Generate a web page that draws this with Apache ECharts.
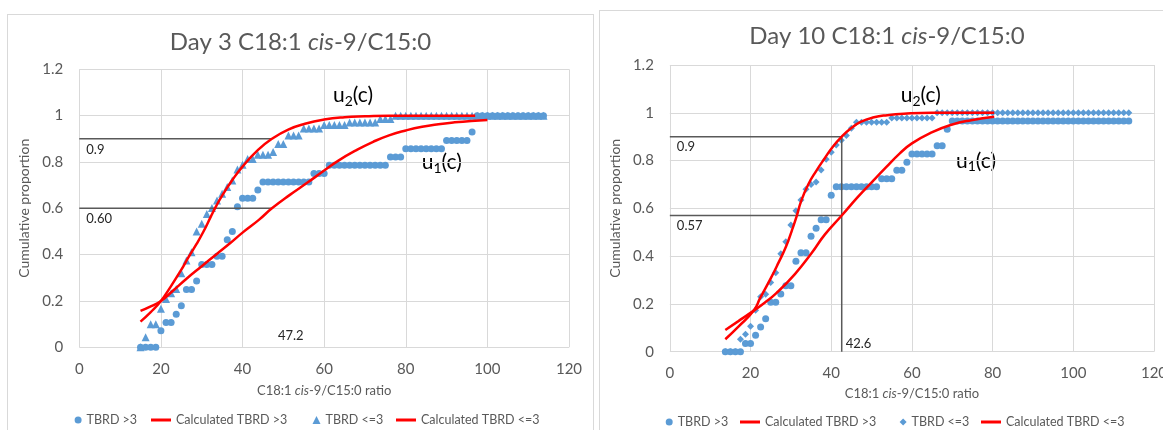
<!DOCTYPE html>
<html>
<head>
<meta charset="utf-8">
<script src="https://cdn.jsdelivr.net/npm/echarts@6/dist/echarts.min.js"></script>
<style>
  html, body { margin: 0; padding: 0; background: #fff; overflow: hidden; }
  body { width: 1163px; height: 430px; position: relative; }
  .panel { position: absolute; box-sizing: border-box; border: 1px solid #d9d9d9; border-bottom: none; }
  #day3 { left: 7px; top: 14px; width: 587px; height: 430px; }
  #day10 { left: 599px; top: 10px; width: 576px; height: 430px; }
</style>
</head>
<body>
<div id="day3" class="panel"></div>
<div id="day10" class="panel"></div>
<script>
// ---- Day 3 data (x grid shared by both observed series) ----
const day3X = [15, 16.25, 17.5, 18.75, 20, 21.25, 22.5, 23.75, 25, 26.25, 27.5, 28.75, 30, 31.25, 32.5,
  33.75, 35, 36.25, 37.5, 38.75, 40, 41.25, 42.5, 43.75, 45, 46.25, 47.5, 48.75, 50, 51.25, 52.5, 53.75,
  55, 56.25, 57.5, 58.75, 60, 61.25, 62.5, 63.75, 65, 66.25, 67.5, 68.75, 70, 71.25, 72.5, 73.75, 75,
  76.25, 77.5, 78.75, 80, 81.25, 82.5, 83.75, 85, 86.25, 87.5, 88.75, 90, 91.25, 92.5, 93.75, 95, 96.25,
  97.5, 98.75, 100, 101.25, 102.5, 103.75, 105, 106.25, 107.5, 108.75, 110, 111.25, 112.5, 113.75];
const day3High = [0, 0, 0, 0, 0.071, 0.107, 0.107, 0.143, 0.179, 0.25, 0.25, 0.286, 0.357, 0.357, 0.357,
  0.393, 0.393, 0.464, 0.5, 0.607, 0.643, 0.643, 0.643, 0.679, 0.714, 0.714, 0.714, 0.714, 0.714, 0.714,
  0.714, 0.714, 0.714, 0.714, 0.75, 0.75, 0.75, 0.786, 0.786, 0.786, 0.786, 0.786, 0.786, 0.786, 0.786,
  0.786, 0.786, 0.786, 0.786, 0.821, 0.821, 0.821, 0.857, 0.857, 0.857, 0.857, 0.857, 0.857, 0.857, 0.857,
  0.893, 0.893, 0.893, 0.893, 0.893, 0.929, 1, 1, 1, 1, 1, 1, 1, 1, 1, 1, 1, 1, 1, 1];
const day3Low = [0, 0.043, 0.099, 0.099, 0.166, 0.209, 0.233, 0.252, 0.32, 0.375, 0.41, 0.5, 0.533, 0.575,
  0.601, 0.634, 0.663, 0.692, 0.72, 0.767, 0.788, 0.813, 0.813, 0.831, 0.831, 0.831, 0.843, 0.878, 0.878,
  0.914, 0.914, 0.914, 0.945, 0.945, 0.945, 0.945, 0.96, 0.96, 0.96, 0.96, 0.96, 0.97, 0.97, 0.97, 0.97,
  0.97, 0.97, 0.985, 0.985, 0.985, 1, 1, 1, 1, 1, 1, 1, 1, 1, 1, 1, 1, 1, 1, 1, 1, 1, 1, 1, 1, 1, 1, 1, 1,
  1, 1, 1, 1, 1, 1];
const day3FitHighX = [15, 17.5, 20, 23, 26.2, 30, 33.7, 37, 40, 44, 47.2, 51.6, 56, 60, 63.5, 67.8, 72,
  75.9, 80, 84, 88, 92, 96, 100];
const day3FitHighY = [0.157, 0.177, 0.2, 0.245, 0.295, 0.35, 0.403, 0.45, 0.495, 0.55, 0.6, 0.658, 0.712,
  0.763, 0.806, 0.85, 0.887, 0.915, 0.936, 0.952, 0.963, 0.971, 0.977, 0.981];
const day3FitLowX = [15, 17.5, 20, 22.4, 24.9, 26.8, 28.7, 30.5, 32.2, 33.5, 35, 37.5, 40, 43.8, 47.2,
  51.2, 55.3, 60, 65, 70, 76, 85, 97];
const day3FitLowY = [0.111, 0.152, 0.2, 0.262, 0.332, 0.39, 0.445, 0.502, 0.563, 0.608, 0.655, 0.722, 0.78,
  0.852, 0.9, 0.94, 0.965, 0.983, 0.993, 0.997, 1, 1, 1];
const day3Levels = [0.9, 0.6];
const day3LevelLabels = ['0.9', '0.60'];
const day3Cut = 47.2;

// ---- Day 10 data ----
const day10X = [13.75, 15, 16.25, 17.5, 18.75, 20, 21.25, 22.5, 23.75, 25, 26.25, 27.5, 28.75, 30, 31.25,
  32.5, 33.75, 35, 36.25, 37.5, 38.75, 40, 41.25, 42.5, 43.75, 45, 46.25, 47.5, 48.75, 50, 51.25, 52.5,
  53.75, 55, 56.25, 57.5, 58.75, 60, 61.25, 62.5, 63.75, 65, 66.25, 67.5, 68.75, 70, 71.25, 72.5, 73.75,
  75, 76.25, 77.5, 78.75, 80, 81.25, 82.5, 83.75, 85, 86.25, 87.5, 88.75, 90, 91.25, 92.5, 93.75, 95,
  96.25, 97.5, 98.75, 100, 101.25, 102.5, 103.75, 105, 106.25, 107.5, 108.75, 110, 111.25, 112.5, 113.75];
const day10High = [0, 0, 0, 0, 0.034, 0.034, 0.069, 0.103, 0.138, 0.207, 0.207, 0.241, 0.276, 0.276, 0.379,
  0.414, 0.414, 0.483, 0.517, 0.552, 0.552, 0.655, 0.69, 0.69, 0.69, 0.69, 0.69, 0.69, 0.69, 0.69, 0.69,
  0.724, 0.724, 0.724, 0.759, 0.759, 0.793, 0.828, 0.828, 0.828, 0.828, 0.828, 0.862, 0.862, 0.931, 0.966,
  0.966, 0.966, 0.966, 0.966, 0.966, 0.966, 0.966, 0.966, 0.966, 0.966, 0.966, 0.966, 0.966, 0.966, 0.966,
  0.966, 0.966, 0.966, 0.966, 0.966, 0.966, 0.966, 0.966, 0.966, 0.966, 0.966, 0.966, 0.966, 0.966, 0.966,
  0.966, 0.966, 0.966, 0.966, 0.966, 1];
const day10Low = [0, 0, 0, 0.052, 0.073, 0.107, 0.174, 0.23, 0.24, 0.29, 0.33, 0.41, 0.46, 0.53, 0.59,
  0.635, 0.68, 0.7, 0.71, 0.76, 0.805, 0.835, 0.865, 0.885, 0.905, 0.935, 0.96, 0.96, 0.96, 0.96, 0.96,
  0.96, 0.96, 0.978, 0.978, 0.978, 0.978, 0.978, 0.978, 0.978, 0.978, 0.978, 1, 1, 1, 1, 1, 1, 1, 1, 1, 1,
  1, 1, 1, 1, 1, 1, 1, 1, 1, 1, 1, 1, 1, 1, 1, 1, 1, 1, 1, 1, 1, 1, 1, 1, 1, 1, 1, 1, 1];
const day10FitHighX = [13.75, 17, 20.8, 23.5, 26.4, 31, 35.1, 38.4, 42.6, 46.5, 50.2, 53.5, 57, 60, 64.9,
  69.8, 74.7, 80.4];
const day10FitHighY = [0.091, 0.128, 0.172, 0.205, 0.245, 0.325, 0.412, 0.49, 0.57, 0.646, 0.712, 0.77,
  0.83, 0.872, 0.918, 0.95, 0.969, 0.983];
const day10FitLowX = [13.75, 17, 20.8, 22.4, 25.1, 27, 28.8, 30.2, 31.4, 32.5, 34.3, 36.3, 38.4, 40.4,
  42.6, 44.9, 47.3, 50.6, 53.9, 58, 65, 80.4];
const day10FitLowY = [0.052, 0.105, 0.172, 0.225, 0.31, 0.375, 0.44, 0.505, 0.565, 0.628, 0.7, 0.757,
  0.81, 0.858, 0.9, 0.935, 0.962, 0.981, 0.99, 0.996, 1, 1];
const day10Levels = [0.9, 0.57];
const day10LevelLabels = ['0.9', '0.57'];
const day10Cut = 42.6;

const BLUE = '#5b9bd5';
const RED = '#ff0000';
const GREY = '#595959';
const GRIDLINE = '#d9d9d9';
const FONT = 'Lato, "Open Sans", sans-serif';

function pairs(xs, ys) {
  return xs.map((x, i) => [x, ys[i]]);
}

function note(x, y, digit) {
  return {
    type: 'text', left: x, top: y - 13,
    style: {
      text: '{u|u}{s|' + digit + '}{u|(c)}',
      rich: {
        u: { fontSize: 21, lineHeight: 26, fill: '#000', fontFamily: FONT },
        s: { fontSize: 14, lineHeight: 14, verticalAlign: 'bottom', fill: '#000', fontFamily: FONT }
      }
    }
  };
}

function buildOption(cfg) {
  const labelText = { color: '#262626', fontSize: 13, fontFamily: FONT };
  const series = [];
  cfg.levels.forEach((lvl, k) => {
    series.push({
      type: 'line', symbol: 'circle', symbolSize: 0, showSymbol: true, silent: true,
      lineStyle: { color: GREY, width: 1.5 }, itemStyle: { color: GREY },
      data: [
        { value: [0, lvl], label: Object.assign({ show: true, formatter: cfg.levelLabels[k], position: 'right',
          distance: cfg.levelDx, offset: [0, cfg.levelDy] }, labelText) },
        [cfg.cut, lvl]
      ]
    });
  });
  series.push({
    type: 'line', symbol: 'circle', symbolSize: 0, showSymbol: true, silent: true,
    lineStyle: { color: GREY, width: 1.5, opacity: cfg.cutLine ? 1 : 0 }, itemStyle: { color: GREY },
    data: [
      [cfg.cut, cfg.levels[0]],
      { value: [cfg.cut, 0], label: Object.assign({ show: true, formatter: String(cfg.cut), position: 'right',
        distance: cfg.cutDx, offset: [0, cfg.cutDy] }, labelText) }
    ]
  });
  series.push({
    name: 'TBRD >3', type: 'scatter', symbol: 'circle', symbolSize: 7,
    itemStyle: { color: BLUE, opacity: 1 }, data: pairs(cfg.xs, cfg.high)
  });
  series.push({
    name: 'Calculated TBRD >3', type: 'line', smooth: 0.5, showSymbol: false,
    lineStyle: { color: RED, width: 2.5 }, itemStyle: { color: RED }, data: pairs(cfg.fitHighX, cfg.fitHighY)
  });
  series.push({
    name: 'TBRD <=3', type: 'scatter', symbol: cfg.lowSymbol, symbolSize: cfg.lowSize,
    itemStyle: { color: BLUE, opacity: 1 }, data: pairs(cfg.xs, cfg.low)
  });
  series.push({
    name: 'Calculated TBRD <=3', type: 'line', smooth: 0.5, showSymbol: false,
    lineStyle: { color: RED, width: 2.5 }, itemStyle: { color: RED }, data: pairs(cfg.fitLowX, cfg.fitLowY)
  });

  const legendText = { color: GREY, fontSize: 12.5, lineHeight: 16, fontFamily: FONT };
  const L = cfg.legendLeft;
  const T = cfg.legendY - 8;
  const common = { top: T, padding: 0, textStyle: legendText, selectedMode: false };

  return {
    animation: false,
    textStyle: { fontFamily: FONT },
    title: {
      left: 'center', top: cfg.titleY - 14,
      text: '{n|Day ' + cfg.day + ' C18:1 }{i|cis}{n|-9/C15:0}',
      textStyle: {
        rich: {
          n: { fontSize: 24, color: GREY, fontFamily: FONT, fontWeight: 'normal' },
          i: { fontSize: 24, color: GREY, fontFamily: FONT, fontWeight: 'normal', fontStyle: 'italic' }
        }
      }
    },
    grid: cfg.grid,
    xAxis: {
      type: 'value', min: 0, max: 120, interval: 20,
      axisLine: { show: false }, axisTick: { show: false },
      splitLine: { lineStyle: { color: GRIDLINE, width: 1 } },
      axisLabel: { color: GREY, fontSize: 15, margin: 14 },
      name: '{n|C18:1 }{i|cis}{n|-9/C15:0 ratio}', nameLocation: 'middle', nameGap: cfg.xNameGap,
      nameTextStyle: {
        rich: {
          n: { fontSize: 13, color: GREY, fontFamily: FONT },
          i: { fontSize: 13, color: GREY, fontFamily: FONT, fontStyle: 'italic' }
        }
      }
    },
    yAxis: {
      type: 'value', min: 0, max: 1.2, interval: 0.2,
      axisLine: { show: false }, axisTick: { show: false },
      splitLine: { lineStyle: { color: GRIDLINE, width: 1 } },
      axisLabel: { color: GREY, fontSize: 15, margin: 16 },
      name: 'Cumulative proportion', nameLocation: 'middle', nameGap: cfg.yNameGap,
      nameTextStyle: { color: GREY, fontSize: 14, fontFamily: FONT }
    },
    legend: [
      Object.assign({ data: [{ name: 'TBRD >3', icon: 'circle' }], left: L[0], itemWidth: 7, itemHeight: 7 }, common),
      Object.assign({ data: [{ name: 'Calculated TBRD >3', icon: 'rect' }], left: L[1], itemWidth: 20, itemHeight: 3 }, common),
      Object.assign({ data: [{ name: 'TBRD <=3', icon: cfg.lowSymbol }], left: L[2], itemWidth: cfg.lowSize, itemHeight: cfg.lowSize }, common),
      Object.assign({ data: [{ name: 'Calculated TBRD <=3', icon: 'rect' }], left: L[3], itemWidth: 20, itemHeight: 3 }, common)
    ],
    graphic: [note(cfg.u2[0], cfg.u2[1], '2'), note(cfg.u1[0], cfg.u1[1], '1')],
    series: series
  };
}

const day3Chart = echarts.init(document.getElementById('day3'));
day3Chart.setOption(buildOption({
  day: 3, xs: day3X, high: day3High, low: day3Low,
  fitHighX: day3FitHighX, fitHighY: day3FitHighY, fitLowX: day3FitLowX, fitLowY: day3FitLowY,
  levels: day3Levels, levelLabels: day3LevelLabels, cut: day3Cut, cutLine: false,
  lowSymbol: 'triangle', lowSize: 8,
  levelDx: 7, levelDy: 11, cutDx: 6, cutDy: -11,
  grid: { left: 71.3, top: 54.3, width: 489.7, height: 278 },
  titleY: 24, xNameGap: 37, yNameGap: 40,
  legendY: 405, legendLeft: [66.6, 143, 304.5, 388],
  u2: [325, 83], u1: [413.7, 150]
}));

const day10Chart = echarts.init(document.getElementById('day10'));
day10Chart.setOption(buildOption({
  day: 10, xs: day10X, high: day10High, low: day10Low,
  fitHighX: day10FitHighX, fitHighY: day10FitHighY, fitLowX: day10FitLowX, fitLowY: day10FitLowY,
  levels: day10Levels, levelLabels: day10LevelLabels, cut: day10Cut, cutLine: true,
  lowSymbol: 'diamond', lowSize: 7,
  levelDx: 7, levelDy: 10, cutDx: 4, cutDy: -8,
  grid: { left: 65, top: 54, width: 489, height: 286.7 },
  titleY: 22, xNameGap: 36, yNameGap: 38,
  legendY: 411, legendLeft: [65.7, 140, 299.6, 381],
  u2: [300.7, 87], u1: [356, 152.3]
}));
</script>
</body>
</html>
